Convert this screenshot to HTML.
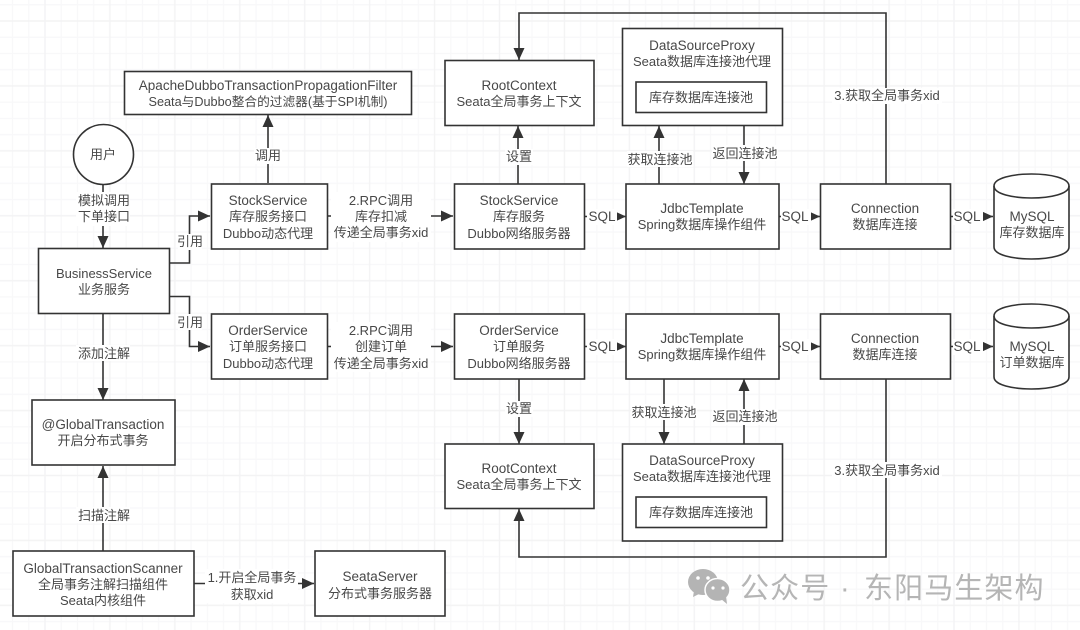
<!DOCTYPE html>
<html><head><meta charset="utf-8"><style>
html,body{margin:0;padding:0;background:#fff;width:1080px;height:630px;overflow:hidden}
svg{display:block;filter:blur(.35px)}
text{font-family:"Liberation Sans","Noto Sans CJK SC",sans-serif;font-size:13px;fill:#484848;text-anchor:middle}
text.t{font-size:13.5px}
.b{fill:#fff;stroke:#333;stroke-width:1.6}
.l{fill:none;stroke:#333;stroke-width:1.6}
.lb{fill:#fff}
.w{font-size:29px;fill:#b5b5b5;text-anchor:start;letter-spacing:1.1px}
</style></head><body>
<svg width="1080" height="630" viewBox="0 0 1080 630" xmlns="http://www.w3.org/2000/svg">
<defs>
<pattern id="g" x="45" y="21" width="64.93" height="64.93" patternUnits="userSpaceOnUse"><path d="M0 16.23H64.93M0 32.46H64.93M0 48.7H64.93M16.23 0V64.93M32.46 0V64.93M48.7 0V64.93" fill="none" stroke="#f8f8f9" stroke-width="1.2"/><path d="M0 0H64.93M0 0V64.93M0 64.93H64.93M64.93 0V64.93" fill="none" stroke="#f3f3f4" stroke-width="1.4"/></pattern>
<marker id="a" markerUnits="userSpaceOnUse" markerWidth="12" markerHeight="12" refX="12" refY="6" orient="auto"><path d="M0 .5L12 6L0 11.5Z" fill="#333"/></marker>
</defs>
<rect width="1080" height="630" fill="#fff"/>
<rect width="1080" height="630" fill="url(#g)"/>

<!-- connectors -->
<g class="conn">
<path class="l" d="M103 184V248" marker-end="url(#a)"/>
<path class="l" d="M169 263H189.500V216H210" marker-end="url(#a)"/>
<path class="l" d="M169 296.500H189.500V346.500H210" marker-end="url(#a)"/>
<path class="l" d="M103 314V400" marker-end="url(#a)"/>
<path class="l" d="M103 551V466" marker-end="url(#a)"/>
<path class="l" d="M194 583.500H314" marker-end="url(#a)"/>
<path class="l" d="M268 183V115" marker-end="url(#a)"/>
<path class="l" d="M327 216H453" marker-end="url(#a)"/>
<path class="l" d="M327 346.500H453" marker-end="url(#a)"/>
<path class="l" d="M518 184V126" marker-end="url(#a)"/>
<path class="l" d="M519 379V444" marker-end="url(#a)"/>
<path class="l" d="M584 216.500H626" marker-end="url(#a)"/>
<path class="l" d="M584 346.500H626" marker-end="url(#a)"/>
<path class="l" d="M779 216.500H820" marker-end="url(#a)"/>
<path class="l" d="M779 346.500H820" marker-end="url(#a)"/>
<path class="l" d="M951 216.500H993" marker-end="url(#a)"/>
<path class="l" d="M951 346.500H993" marker-end="url(#a)"/>
<path class="l" d="M659 184V126" marker-end="url(#a)"/>
<path class="l" d="M744 126V184" marker-end="url(#a)"/>
<path class="l" d="M664 379V444" marker-end="url(#a)"/>
<path class="l" d="M744 444V379" marker-end="url(#a)"/>
<path class="l" d="M886 184V13H519V60" marker-end="url(#a)"/>
<path class="l" d="M886 379V557H519V509" marker-end="url(#a)"/>
</g>

<!-- connector label backgrounds -->
<rect class="lb" x="76" y="192" width="54" height="34"/>
<rect class="lb" x="178" y="234" width="24" height="16"/>
<rect class="lb" x="178" y="314" width="24" height="16"/>
<rect class="lb" x="76" y="345" width="54" height="16"/>
<rect class="lb" x="76" y="507" width="54" height="16"/>
<rect class="lb" x="205" y="569" width="93" height="34"/>
<rect class="lb" x="254" y="148" width="28" height="16"/>
<rect class="lb" x="331" y="192" width="100" height="50"/>
<rect class="lb" x="331" y="322" width="100" height="50"/>
<rect class="lb" x="505" y="149" width="28" height="16"/>
<rect class="lb" x="505" y="401" width="28" height="16"/>
<rect class="lb" x="587" y="209" width="30" height="16"/>
<rect class="lb" x="587" y="339" width="30" height="16"/>
<rect class="lb" x="781" y="209" width="30" height="16"/>
<rect class="lb" x="781" y="339" width="30" height="16"/>
<rect class="lb" x="953" y="209" width="30" height="16"/>
<rect class="lb" x="953" y="339" width="30" height="16"/>
<rect class="lb" x="627" y="151" width="66" height="16"/>
<rect class="lb" x="712" y="145" width="66" height="16"/>
<rect class="lb" x="631" y="404" width="66" height="16"/>
<rect class="lb" x="712" y="409" width="66" height="16"/>
<rect class="lb" x="832" y="88" width="110" height="16"/>
<rect class="lb" x="832" y="462" width="110" height="16"/>

<!-- nodes -->
<rect class="b" x="124.500" y="71.500" width="287" height="43"/>
<circle class="b" cx="103.500" cy="154.500" r="30"/>
<rect class="b" x="211.500" y="184" width="116" height="65"/>
<rect class="b" x="211.500" y="314" width="116" height="65"/>
<rect class="b" x="38.500" y="248.500" width="131" height="65"/>
<rect class="b" x="32" y="400" width="143" height="65"/>
<rect class="b" x="13" y="551" width="181" height="65"/>
<rect class="b" x="315" y="551" width="130" height="65"/>
<rect class="b" x="445" y="60.500" width="149" height="65"/>
<rect class="b" x="622.500" y="28.500" width="160" height="97"/>
<rect class="b" x="636" y="82" width="130.500" height="30.500"/>
<rect class="b" x="454.500" y="184" width="130" height="65"/>
<rect class="b" x="626" y="184" width="153" height="65"/>
<rect class="b" x="820.500" y="184" width="130" height="65"/>
<rect class="b" x="454.500" y="314" width="130" height="65"/>
<rect class="b" x="626" y="314" width="153" height="65"/>
<rect class="b" x="820.500" y="314" width="130" height="65"/>
<rect class="b" x="445" y="444" width="149" height="64.500"/>
<rect class="b" x="622.500" y="444" width="160" height="97"/>
<rect class="b" x="636" y="497" width="130.500" height="30.500"/>
<path class="b" d="M994 186C994 170 1069 170 1069 186V247C1069 263 994 263 994 247Z"/>
<path class="l" d="M994 186C994 202 1069 202 1069 186"/>
<path class="b" d="M994 316C994 300 1069 300 1069 316V377C1069 393 994 393 994 377Z"/>
<path class="l" d="M994 316C994 332 1069 332 1069 316"/>

<!-- node labels -->
<text class="t" x="268" y="90">ApacheDubboTransactionPropagationFilter</text>
<text x="268" y="106" style="font-size:12.7px">Seata与Dubbo整合的过滤器(基于SPI机制)</text>
<text x="103" y="159">用户</text>
<text class="t" x="268" y="205">StockService</text>
<text x="268" y="221">库存服务接口</text>
<text x="268" y="238">Dubbo动态代理</text>
<text class="t" x="268" y="335">OrderService</text>
<text x="268" y="351">订单服务接口</text>
<text x="268" y="368">Dubbo动态代理</text>
<text x="104" y="278">BusinessService</text>
<text x="104" y="294">业务服务</text>
<text class="t" x="103" y="429">@GlobalTransaction</text>
<text x="103" y="445">开启分布式事务</text>
<text class="t" x="103" y="573">GlobalTransactionScanner</text>
<text x="103" y="589">全局事务注解扫描组件</text>
<text x="103" y="605">Seata内核组件</text>
<text class="t" x="380" y="581">SeataServer</text>
<text x="380" y="598">分布式事务服务器</text>
<text class="t" x="519" y="90">RootContext</text>
<text x="519" y="106">Seata全局事务上下文</text>
<text class="t" x="702" y="50">DataSourceProxy</text>
<text x="702" y="66">Seata数据库连接池代理</text>
<text x="701" y="102">库存数据库连接池</text>
<text class="t" x="519" y="205">StockService</text>
<text x="519" y="221">库存服务</text>
<text x="519" y="238">Dubbo网络服务器</text>
<text class="t" x="702" y="213">JdbcTemplate</text>
<text x="702" y="229">Spring数据库操作组件</text>
<text class="t" x="885" y="213">Connection</text>
<text x="885" y="229">数据库连接</text>
<text class="t" x="1032" y="221">MySQL</text>
<text x="1032" y="237">库存数据库</text>
<text class="t" x="519" y="335">OrderService</text>
<text x="519" y="351">订单服务</text>
<text x="519" y="368">Dubbo网络服务器</text>
<text class="t" x="702" y="343">JdbcTemplate</text>
<text x="702" y="359">Spring数据库操作组件</text>
<text class="t" x="885" y="343">Connection</text>
<text x="885" y="359">数据库连接</text>
<text class="t" x="1032" y="351">MySQL</text>
<text x="1032" y="367">订单数据库</text>
<text class="t" x="519" y="473">RootContext</text>
<text x="519" y="489">Seata全局事务上下文</text>
<text class="t" x="702" y="465">DataSourceProxy</text>
<text x="702" y="481">Seata数据库连接池代理</text>
<text x="701" y="517">库存数据库连接池</text>

<!-- connector labels -->
<text x="104" y="205">模拟调用</text>
<text x="104" y="221">下单接口</text>
<text x="190" y="246">引用</text>
<text x="190" y="327">引用</text>
<text x="104" y="358">添加注解</text>
<text x="104" y="520">扫描注解</text>
<text x="252" y="582">1.开启全局事务</text>
<text x="252" y="599">获取xid</text>
<text x="268" y="160">调用</text>
<text x="381" y="205">2.RPC调用</text>
<text x="381" y="221">库存扣减</text>
<text x="381" y="237">传递全局事务xid</text>
<text x="381" y="335">2.RPC调用</text>
<text x="381" y="351">创建订单</text>
<text x="381" y="368">传递全局事务xid</text>
<text x="519" y="161">设置</text>
<text x="519" y="413">设置</text>
<text class="t" x="602" y="221">SQL</text>
<text class="t" x="602" y="351">SQL</text>
<text class="t" x="795" y="221">SQL</text>
<text class="t" x="795" y="351">SQL</text>
<text class="t" x="967" y="221">SQL</text>
<text class="t" x="967" y="351">SQL</text>
<text x="660" y="164">获取连接池</text>
<text x="745" y="158">返回连接池</text>
<text x="664" y="417">获取连接池</text>
<text x="745" y="421">返回连接池</text>
<text x="887" y="100">3.获取全局事务xid</text>
<text x="887" y="475">3.获取全局事务xid</text>

<!-- watermark -->
<g fill="#b4b4b4">
<ellipse cx="703" cy="582" rx="15" ry="13"/>
<path d="M694 591L693 597L701 593Z"/>
<ellipse cx="717.500" cy="590" rx="12.500" ry="11.500" stroke="#fff" stroke-width="1.500"/>
<path d="M721 599L727 604L726 596Z"/>
<circle cx="698" cy="578" r="1.800" fill="#fff"/><circle cx="708" cy="578" r="1.800" fill="#fff"/>
<circle cx="713" cy="588" r="1.600" fill="#fff"/><circle cx="723" cy="588" r="1.600" fill="#fff"/>
</g>
<text class="w" x="740" y="598">公众号</text>
<text class="w" x="840" y="598">·</text>
<text class="w" x="864" y="598">东阳马生架构</text>
</svg>
</body></html>
